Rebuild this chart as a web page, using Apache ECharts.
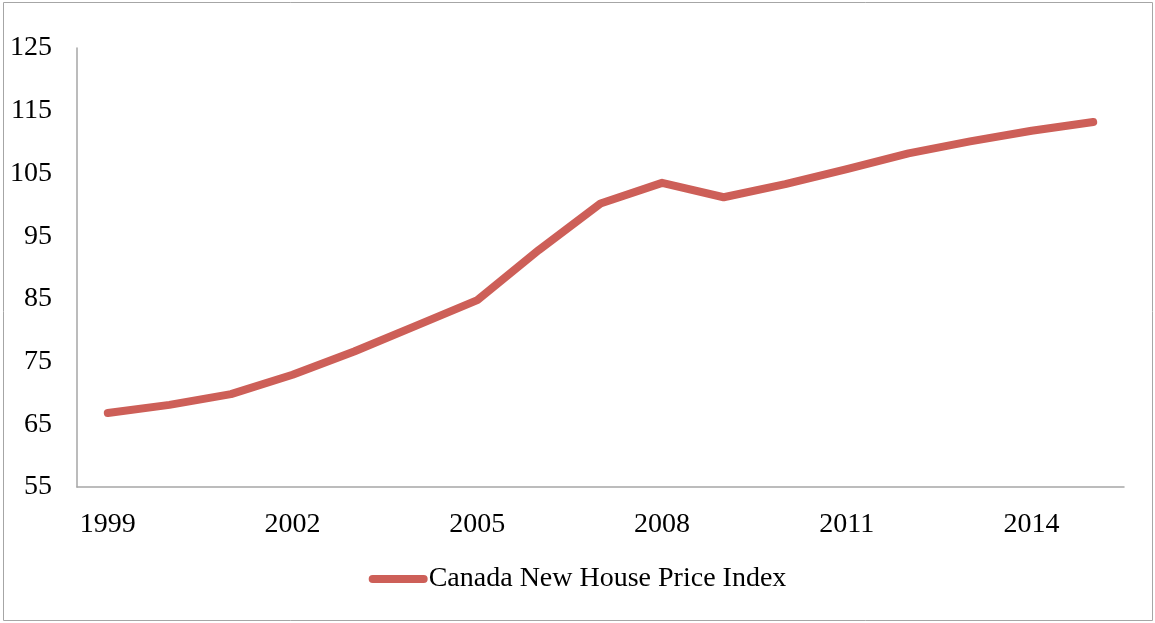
<!DOCTYPE html>
<html>
<head>
<meta charset="utf-8">
<script src="https://cdn.jsdelivr.net/npm/echarts@6/dist/echarts.min.js"></script>
<style>
  html, body { margin: 0; padding: 0; background: #fff; }
  #chart { width: 1155px; height: 623px; }
</style>
</head>
<body>
<div id="chart"></div>
<script>
// data
var years = ['1999', '2000', '2001', '2002', '2003', '2004', '2005', '2006', '2007',
  '2008', '2009', '2010', '2011', '2012', '2013', '2014', '2015'];
var nhpi = [66.8, 68.1, 69.8, 72.9, 76.6, 80.7, 84.8, 92.8, 100.2,
  103.5, 101.2, 103.3, 105.7, 108.2, 110.1, 111.8, 113.2];
var seriesName = 'Canada New House Price Index';

var myChart = echarts.init(document.getElementById('chart'));
var font = '"Liberation Serif", "DejaVu Serif", serif';

var option = {
  backgroundColor: '#fff',
  animation: false,
  textStyle: { fontFamily: font },
  graphic: [{
    type: 'rect',
    shape: { x: 3.5, y: 2.5, width: 1149, height: 618 },
    style: { fill: 'none', stroke: '#a6a6a6', lineWidth: 1 },
    silent: true
  }],
  grid: { left: 77, top: 48, right: 31, bottom: 136 },
  legend: {
    bottom: 25,
    left: 'center',
    itemWidth: 59,
    itemHeight: 8,
    itemGap: 0,
    icon: 'path://M4,0 H55 A4,4 0 0 1 55,8 H4 A4,4 0 0 1 4,0 Z',
    textStyle: { fontFamily: font, fontSize: 28, color: '#000', padding: [0, 0, 0, -4] },
    data: [seriesName]
  },
  xAxis: {
    type: 'category',
    data: years,
    boundaryGap: true,
    axisLine: { lineStyle: { color: '#a6a6a6', width: 1.5 } },
    axisTick: { show: false },
    axisLabel: { interval: 2, margin: 24, fontSize: 28, color: '#000', fontFamily: font }
  },
  yAxis: {
    type: 'value',
    min: 55,
    max: 125,
    interval: 10,
    axisLine: { show: true, lineStyle: { color: '#a6a6a6', width: 1.5 } },
    axisTick: { show: false },
    splitLine: { show: false },
    axisLabel: { margin: 25, fontSize: 28, color: '#000', fontFamily: font, padding: [8, 0, 0, 0] }
  },
  series: [{
    name: seriesName,
    type: 'line',
    data: nhpi,
    symbol: 'none',
    itemStyle: { color: '#cd5f58' },
    lineStyle: { color: '#cd5f58', width: 8, cap: 'round', join: 'round' }
  }]
};

myChart.setOption(option);
</script>
</body>
</html>
